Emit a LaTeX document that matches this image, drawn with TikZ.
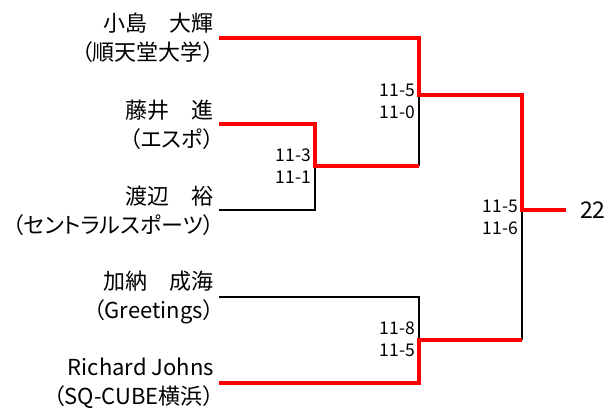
\documentclass[tikz,border=0pt]{standalone}
\usepackage{fontspec}
\setmainfont{Noto Sans CJK JP}[RawFeature=+palt]
\begin{document}
\begin{tikzpicture}[x=1pt,y=-1pt,
  win/.style={draw=red,line width=4pt,line join=miter},
  lose/.style={draw=black,line width=2pt,line join=miter},
  pname/.style={anchor=east,align=right,inner sep=0pt,font=\fontsize{22}{29}\selectfont},
  score/.style={anchor=east,align=right,inner sep=0pt,font=\fontsize{17.5}{22}\selectfont},
]
\useasboundingbox (0,0) rectangle (608,409);
% names
\node[pname] (n1) at (214,38) {小島　大輝\\（順天堂大学）};
\node[pname] (n2) at (214,125) {藤井　進\\（エスポ）};
\node[pname] (n3) at (214,211) {渡辺　裕\\（セントラルスポーツ）};
\node[pname] (n4) at (214,297) {加納　成海\\（Greetings）};
\node[pname] (n5) at (214,383.5) {Richard Johns\\（SQ-CUBE横浜）};
% line starts and junctions
\coordinate (s1) at (219,38);
\coordinate (s2) at (219,124);
\coordinate (s3) at (219,210);
\coordinate (s4) at (219,297);
\coordinate (s5) at (219,383);
\coordinate (j1) at (315,166);
\coordinate (j2) at (419,95);
\coordinate (j3) at (419,340);
\coordinate (j4) at (522,210);
\coordinate (fin) at (566,210);
% scores
\node[score] (sc1) at (311,166) {11-3\\11-1};
\node[score] (sc2) at (415,101) {11-5\\11-0};
\node[score] (sc3) at (518,217) {11-5\\11-6};
\node[score] (sc4) at (415,339) {11-8\\11-5};
\node[anchor=west,inner sep=0pt,font=\fontsize{23}{23}\selectfont] (champ) at (580,210) {22};
% losing lines
\draw[lose] (s3) -| (j1);
\draw[lose] (j1 -| j2) -- (j2);
\draw[lose] (s4) -| (j3);
\draw[lose] (j3 -| j4) -- (j4);
% winning lines
\draw[win] (s1) -| (j2) -| (j4) -- (fin);
\draw[win] (s2) -| (j1) -- (j1 -| j2);
\draw[win] (s5) -| (j3) -- (j3 -| j4);
\end{tikzpicture}
\end{document}
